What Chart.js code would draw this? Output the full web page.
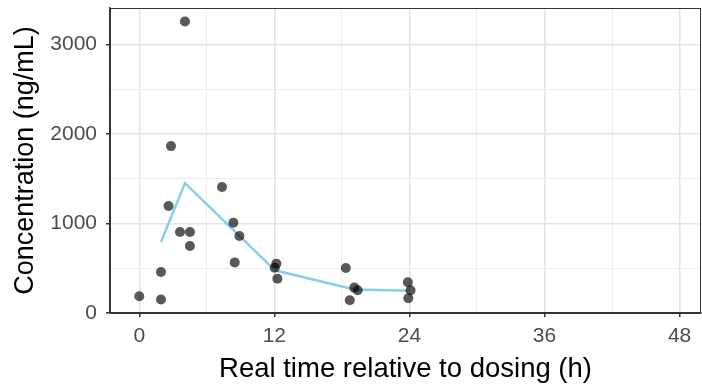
<!DOCTYPE html>
<html>
<head>
<meta charset="utf-8">
<script src="https://cdn.jsdelivr.net/npm/chart.js@4/dist/chart.umd.min.js"></script>
<style>
  body { margin: 0; background: #fff; }
  #wrap { width: 702px; height: 389px; }
</style>
</head>
<body>
<div id="wrap"><canvas id="myChart" width="702" height="389"></canvas></div>
<script>
// observed samples
const obsTime = [0, 1.93, 1.93, 2.6, 2.82, 3.62, 4.06, 4.5, 4.5, 7.35, 8.36, 8.48, 8.9,
  12.03, 12.18, 12.27, 18.35, 18.7, 19.1, 19.4, 23.86, 24.1, 23.9];
const obsConc = [187, 150, 458, 1196, 1866, 905, 3260, 905, 749, 1408, 1010, 566, 860,
  507, 552, 384, 503, 142, 284, 254, 343, 254, 165];

// mean profile
const meanTime = [1.93, 4.06, 12.06, 19.1, 23.95];
const meanConc = [793, 1452, 477, 262, 250];

const xTicks = [0, 6, 12, 18, 24, 30, 36, 42, 48];
const xLabels = [0, 12, 24, 36, 48];
const yTicks = [0, 500, 1000, 1500, 2000, 2500, 3000];
const yLabels = [0, 1000, 2000, 3000];

const fontFamily = "'Liberation Sans', Arial, sans-serif";

// no auto padding, labels may hang over the panel edges
const noPad = (s) => {
  s.paddingTop = 0; s.paddingBottom = 0; s.paddingLeft = 0; s.paddingRight = 0;
};

const panelBorder = {
  id: "panelBorder",
  afterDraw(chart) {
    const {ctx, chartArea: a} = chart;
    ctx.save();
    ctx.strokeStyle = "#333333";
    ctx.lineWidth = 1;
    ctx.strokeRect(a.left + 0.5, a.top + 0.5, a.right - a.left - 1, a.bottom - a.top);
    ctx.restore();
  }
};

const ctx = document.getElementById("myChart");
const myChart = new Chart(ctx, {
  plugins: [panelBorder],
  data: {
    datasets: [
      {
        type: "scatter",
        data: obsTime.map((t, i) => ({x: t, y: obsConc[i]})),
        backgroundColor: "rgba(0,0,0,0.65)",
        borderWidth: 0,
        pointRadius: 5,
      },
      {
        type: "line",
        data: meanTime.map((t, i) => ({x: t, y: meanConc[i]})),
        borderColor: "#87CEEB",
        borderWidth: 2.5,
        pointRadius: 0,
        tension: 0,
      },
    ]
  },
  options: {
    responsive: false,
    animation: false,
    layout: {autoPadding: false, padding: {top: 8, right: 1, left: 0, bottom: 0}},
    plugins: {
      legend: {display: false},
      tooltip: {enabled: false},
    },
    scales: {
      x: {
        type: "linear",
        min: -2.6,
        max: 49.9,
        afterBuildTicks: (s) => { s.ticks = xTicks.map(v => ({value: v})); },
        afterFit: (s) => { s.height = 76; noPad(s); },
        border: {color: "#333333", width: 1.5},
        grid: {
          color: (c) => xLabels.includes(c.tick.value) ? "#E3E3E3" : "#EEEEEE",
          lineWidth: (c) => xLabels.includes(c.tick.value) ? 1.5 : 1,
          tickColor: (c) => xLabels.includes(c.tick.value) ? "#333333" : "rgba(0,0,0,0)",
          tickLength: 4,
        },
        ticks: {
          color: "#4D4D4D",
          padding: 7,
          maxRotation: 0,
          font: {family: fontFamily, size: 21},
          callback: (v) => xLabels.includes(v) ? String(v) : "",
        },
        title: {
          display: true,
          text: "Real time relative to dosing (h)",
          color: "#000000",
          padding: {top: 0, bottom: 3},
          font: {family: fontFamily, size: 27.5},
        },
      },
      y: {
        type: "linear",
        min: 0,
        max: 3410,
        afterBuildTicks: (s) => { s.ticks = yTicks.map(v => ({value: v})); },
        afterFit: (s) => { s.width = 110; noPad(s); },
        border: {color: "#333333", width: 1.5},
        grid: {
          color: (c) => yLabels.includes(c.tick.value) ? "#E3E3E3" : "#EEEEEE",
          lineWidth: (c) => yLabels.includes(c.tick.value) ? 1.5 : 1,
          tickColor: (c) => yLabels.includes(c.tick.value) ? "#333333" : "rgba(0,0,0,0)",
          tickLength: 4,
        },
        ticks: {
          color: "#4D4D4D",
          padding: 9,
          font: {family: fontFamily, size: 21},
          callback: (v) => yLabels.includes(v) ? String(v) : "",
        },
        title: {
          display: true,
          text: "Concentration (ng/mL)",
          color: "#000000",
          padding: {top: 9, bottom: 0},
          font: {family: fontFamily, size: 27},
        },
      },
    },
  },
});
</script>
</body>
</html>
